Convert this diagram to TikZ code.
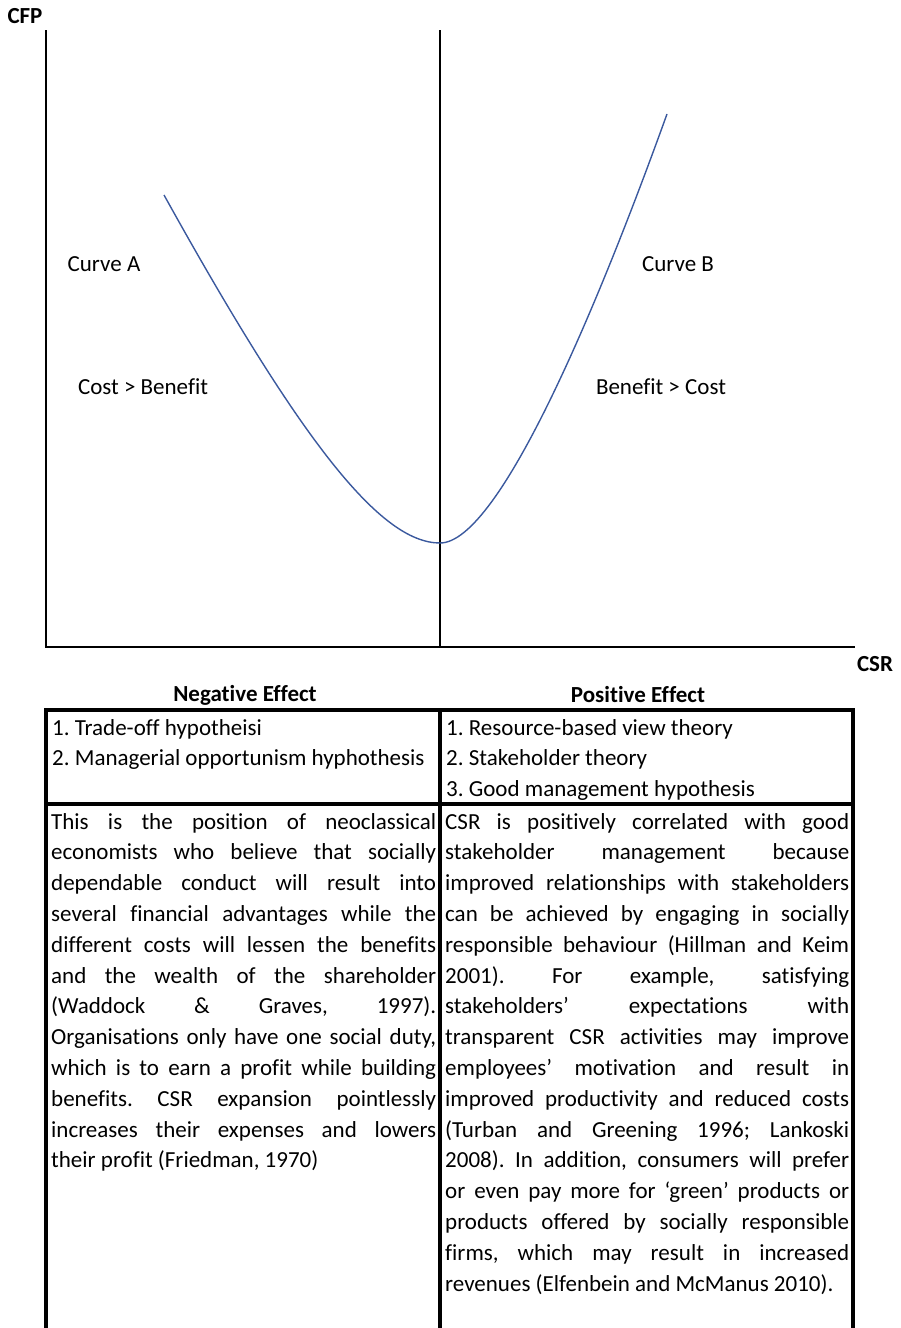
\documentclass[tikz,border=0pt]{standalone}
\usepackage{fontspec}
\setmainfont{Carlito}[Ligatures=NoCommon]
\usepackage{tikz}
\usetikzlibrary{positioning}
\definecolor{cblue}{rgb}{0.23, 0.35, 0.62}

\tikzset{
  axisline/.style={line width=2pt},
  cellline/.style={line width=3.5pt},
  celltext/.style={anchor=north west, inner sep=0pt, align=justify,
    font=\fontsize{23}{30.8}\selectfont\frenchspacing},
  label/.style={font=\fontsize{23}{27}\selectfont},
  axislabel/.style={font=\bfseries\fontsize{23}{27}\selectfont}
}

\begin{document}
\begin{tikzpicture}[x=1pt, y=-1pt]
  \useasboundingbox (0, 0) rectangle (900, 1328);

  % axes
  \coordinate (origin) at (46, 647);
  \coordinate (ytop) at (46, 30);
  \coordinate (xend) at (855, 647);
  \coordinate (midtop) at (440, 30);
  \coordinate (midbot) at (440, 647);
  \draw [axisline] (ytop) -- (origin) -- (xend);
  \draw [line width=1.6pt] (midtop) -- (midbot);
  \node [axislabel] (cfp) at (25, 16) {CFP};
  \node [axislabel] (csr) at (875, 664) {CSR};

  % the curve
  \coordinate (astart) at (164, 195);
  \coordinate (bottom) at (440, 543);
  \coordinate (bend) at (667, 114);
  \draw [cblue, line width=1.4pt] (astart) .. controls (300, 440) and (380, 543) .. (bottom)
    .. controls (500, 543) and (600, 300) .. (bend);

  \node [label] (curvea) at (104, 264) {Curve A};
  \node [label] (costa) at (143, 387) {Cost > Benefit};
  \node [label] (curveb) at (678, 264) {Curve B};
  \node [label] (costb) at (661, 387) {Benefit > Cost};

  % table
  \node [axislabel] (neg) at (245, 695) {Negative Effect};
  \node [axislabel] (pos) at (638, 695) {Positive Effect};
  \draw [cellline] (46, 1330) -- (46, 710) -- (853, 710) -- (853, 1330);
  \draw [cellline] (46, 804) -- (853, 804);
  \draw [cellline] (440, 710) -- (440, 1330);

  \node [celltext, text width=385pt] (negtheory) at (52, 719) {1. Trade-off hypotheisi\\
    2. Managerial opportunism hyphothesis};
  \node [celltext, text width=404pt] (postheory) at (446, 719) {1. Resource-based view theory\\
    2. Stakeholder theory\\
    3. Good management hypothesis};

  \node [celltext, text width=385pt] (negbody) at (51, 813) {This is the position of neoclassical\linebreak
    economists who believe that socially\linebreak
    dependable conduct will result into\linebreak
    several financial advantages while the\linebreak
    different costs will lessen the benefits\linebreak
    and the wealth of the shareholder\linebreak
    (Waddock \& Graves, 1997).\linebreak
    Organisations only have one social duty,\linebreak
    which is to earn a profit while building\linebreak
    benefits. CSR expansion pointlessly\linebreak
    increases their expenses and lowers\linebreak
    their profit (Friedman, 1970)};
  \node [celltext, text width=404pt] (posbody) at (445, 813) {CSR is positively correlated with good\linebreak
    stakeholder management because\linebreak
    improved relationships with stakeholders\linebreak
    can be achieved by engaging in socially\linebreak
    responsible behaviour (Hillman and Keim\linebreak
    2001). For example, satisfying\linebreak
    stakeholders’ expectations with\linebreak
    transparent CSR activities may improve\linebreak
    employees’ motivation and result in\linebreak
    improved productivity and reduced costs\linebreak
    (Turban and Greening 1996; Lankoski\linebreak
    2008). In addition, consumers will prefer\linebreak
    or even pay more for ‘green’ products or\linebreak
    products offered by socially responsible\linebreak
    firms, which may result in increased\linebreak
    revenues (Elfenbein and McManus 2010).};
\end{tikzpicture}
\end{document}
